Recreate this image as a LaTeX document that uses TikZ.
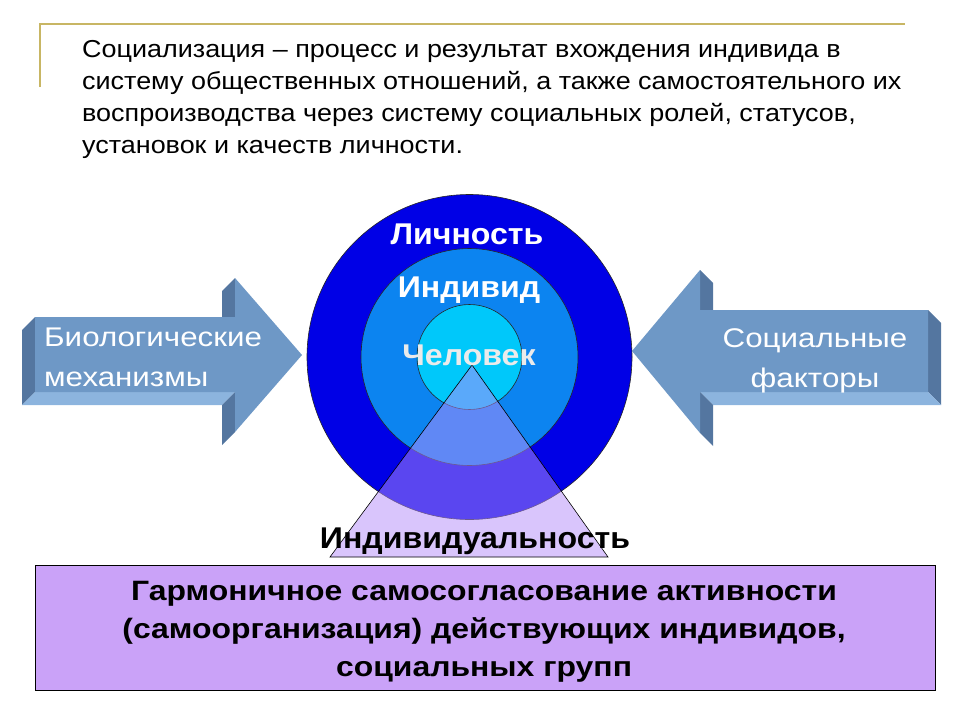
\documentclass[tikz,border=0pt]{standalone}
\usepackage{fontspec}
\setmainfont{Liberation Sans}
\newfontfamily\defnfont[FakeStretch=1.1]{Liberation Sans}
\newfontfamily\arrowfont[FakeStretch=1.16]{Liberation Sans}
\newfontfamily\goalfont[FakeStretch=1.14]{Liberation Sans}
\newfontfamily\ringfont[FakeStretch=1.07]{Liberation Sans}
\usepackage{xcolor}
\usetikzlibrary{positioning}

\definecolor{goldrule}{RGB}{200,182,100}
\definecolor{outerblue}{RGB}{0,0,230}
\definecolor{midblue}{RGB}{12,132,240}
\definecolor{innerblue}{RGB}{0,200,250}
\definecolor{trifill}{RGB}{180,140,250}
\definecolor{goalfill}{RGB}{202,162,248}
\definecolor{arrface}{RGB}{110,152,198}
\definecolor{arrdark}{RGB}{84,118,160}
\definecolor{arrlight}{RGB}{140,180,222}

\begin{document}
\begin{tikzpicture}[
  x=1pt, y=-1pt,
  ring/.style = {circle, draw=black!85, line width=0.6pt, inner sep=0pt},
  ringlabel/.style = {font=\ringfont\fontsize{30}{36}\selectfont\bfseries, text=white, anchor=base, inner sep=0pt},
  arrlabel/.style = {font=\arrowfont\fontsize{27}{40}\selectfont, text=white, inner sep=0pt},
  goalbox/.style = {
    rectangle, draw=black, line width=0.8pt, fill=goalfill,
    minimum width=900pt, minimum height=125pt
  },
  goaltext/.style = {align=center, inner sep=0pt,
    font=\goalfont\fontsize{28}{38}\selectfont\bfseries}
]
\useasboundingbox (0,0) rectangle (960,720);

% heading rule and definition
\draw[goldrule, line width=1.6pt] (40,87) -- (40,24) -- (905,24);
\node[anchor=north west, inner sep=0pt, align=left,
      font=\defnfont\fontsize{24.5}{32}\selectfont] (definition) at (82,40)
  {Социализация – процесс и результат вхождения индивида в\\
   систему общественных отношений, а также самостоятельного их\\
   воспроизводства через систему социальных ролей, статусов,\\
   установок и качеств личности.};

% left arrow (3D)
\fill[arrdark]  (35,317) -- (35,392) -- (22,405) -- (22,330) -- cycle;
\fill[arrlight] (35,392) -- (235,392) -- (222,405) -- (22,405) -- cycle;
\fill[arrdark]  (235,278) -- (235,317) -- (222,330) -- (222,291) -- cycle;
\fill[arrdark]  (235,392) -- (235,432) -- (222,445) -- (222,405) -- cycle;
\fill[arrface]  (35,317) -- (235,317) -- (235,278) -- (302,355)
                -- (235,432) -- (235,392) -- (35,392) -- cycle;
\node[arrlabel, anchor=north west, align=left] (bio) at (44,328)
  {Биологические\\механизмы};

% right arrow (3D)
\fill[arrdark]  (928,310) -- (928,392) -- (941,405) -- (941,323) -- cycle;
\fill[arrlight] (700,392) -- (928,392) -- (941,405) -- (713,405) -- cycle;
\fill[arrdark]  (700,270) -- (700,310) -- (713,323) -- (713,283) -- cycle;
\fill[arrdark]  (700,392) -- (700,433) -- (713,446) -- (713,405) -- cycle;
\fill[arrface]  (928,310) -- (700,310) -- (700,270) -- (632,351)
                -- (700,433) -- (700,392) -- (928,392) -- cycle;
\node[arrlabel, anchor=north, align=center] (social) at (815,328)
  {Социальные\\факторы};

% nested circles
\node[ring, fill=outerblue, minimum size=325pt] (lichnost) at (469.5,357) {};
\node[ring, fill=midblue,   minimum size=217pt] (individ)  at (469.5,357) {};
\node[ring, fill=innerblue, minimum size=105pt] (chelovek) at (469.5,357) {};

% individuality triangle
\draw[black, line width=0.6pt, fill=trifill, fill opacity=0.5]
  (472,365) -- (608,557) -- (330,557) -- cycle;

\node[ringlabel] (lbl-lichnost) at (467,244) {Личность};
\node[ringlabel] (lbl-individ)  at (469,297) {Индивид};
\node[ringlabel, text=white!92!black] (lbl-chelovek) at (469,365) {Человек};
\node[ringlabel, text=black] (lbl-individuality) at (475,548) {Индивидуальность};

% goal box
\node[goalbox] (harmony) at (485,627.5) {};
\node[goaltext] (harmony-text) at (484,632)
  {Гармоничное самосогласование активности\\
   (самоорганизация) действующих индивидов,\\
   социальных групп};
\end{tikzpicture}
\end{document}
